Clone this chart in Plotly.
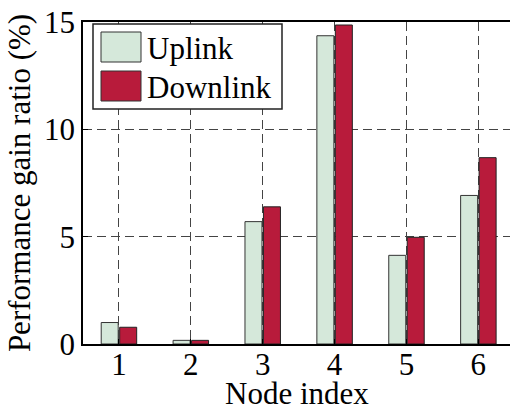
import plotly.graph_objects as go

nodes = [1, 2, 3, 4, 5, 6]
uplink = [1.0, 0.17, 5.7, 14.36, 4.13, 6.92]
downlink = [0.78, 0.17, 6.39, 14.86, 4.97, 8.68]
series_names = ["Uplink", "Downlink"]
y_ticks = [0, 5, 10, 15]
x_title = "Node index"
y_title = "Performance gain ratio (%)"

FONT = "Liberation Serif"
UP_COLOR = "#D5E8DA"
DOWN_COLOR = "#B81B3B"

W, H = 510, 409
L, R, T, B = 83, 510, 22, 344


def px(x):
    return (x - L) / (R - L)


def py(y):
    return (B - y) / (B - T)


fig = go.Figure()
fig.add_trace(go.Bar(x=nodes, y=uplink, name=series_names[0], marker=dict(color=UP_COLOR, line=dict(color="#333333", width=1)), showlegend=False))
fig.add_trace(go.Bar(x=nodes, y=downlink, name=series_names[1], marker=dict(color=DOWN_COLOR, line=dict(color="#222222", width=1)), showlegend=False))

shapes = []
annotations = []
# legend box
shapes.append(dict(type="rect", xref="paper", yref="paper", x0=px(93), x1=px(282), y0=py(109), y1=py(24),
                   line=dict(color="#222", width=1.5), fillcolor="white", layer="above"))
for name, col, y0, y1 in [(series_names[0], UP_COLOR, 32, 62), (series_names[1], DOWN_COLOR, 71, 101)]:
    shapes.append(dict(type="rect", xref="paper", yref="paper", x0=px(101), x1=px(141), y0=py(y1), y1=py(y0),
                       line=dict(color="#333", width=1), fillcolor=col, layer="above"))
    annotations.append(dict(xref="paper", yref="paper", x=px(145), y=py((y0 + y1) / 2 + 1), text=name, showarrow=False,
                            xanchor="left", yanchor="middle", font=dict(family=FONT, size=31, color="black")))

# x-axis title placed as annotation (sits right at the bottom edge like the reference)
annotations.append(dict(xref="paper", yref="paper", x=px(297), y=py(393), text=x_title, showarrow=False,
                        xanchor="center", yanchor="middle", font=dict(family=FONT, size=31, color="black")))

fig.update_layout(
    width=W, height=H,
    margin=dict(l=L, r=W - R, t=T, b=H - B, autoexpand=False),
    paper_bgcolor="white", plot_bgcolor="white",
    barmode="group", bargap=0.486, bargroupgap=0.08,
    font=dict(family=FONT, size=31, color="black"),
    shapes=shapes, annotations=annotations,
    xaxis=dict(range=[0.5, 6.44], tickvals=nodes, ticktext=[str(n) for n in nodes],
               showline=True, linecolor="black", linewidth=1.5, mirror=True,
               ticks="inside", ticklen=5, tickcolor="black",
               showgrid=True, gridcolor="#444", gridwidth=1, griddash="9px,5px",
               tickfont=dict(size=31), zeroline=False, automargin=False, ticklabelstandoff=-8),
    yaxis=dict(range=[0, 15], tickvals=y_ticks,
               showline=True, linecolor="black", linewidth=1.5, mirror=True,
               ticks="inside", ticklen=5, tickcolor="black",
               showgrid=True, gridcolor="#444", gridwidth=1, griddash="9px,5px",
               title=dict(text=y_title, font=dict(size=31), standoff=4),
               tickfont=dict(size=31), zeroline=False, automargin=False),
)

fig.write_html("out.html")
